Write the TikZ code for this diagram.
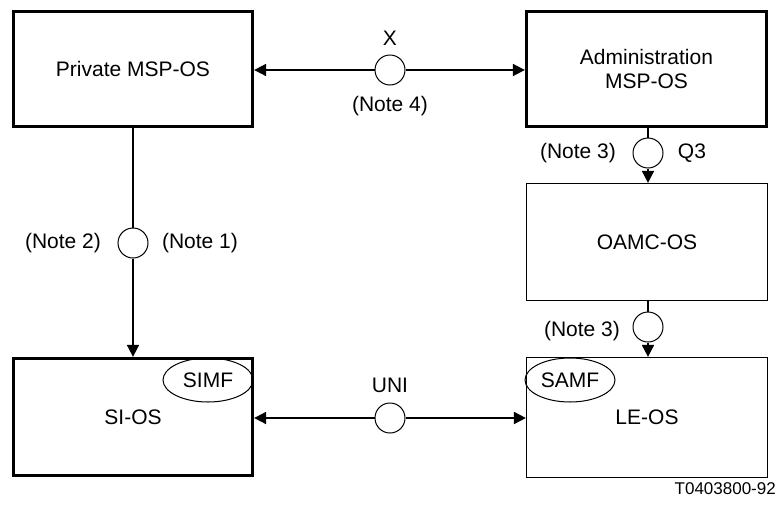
\documentclass[tikz,border=0pt]{standalone}
\usepackage{fontspec}
\setmainfont{Liberation Sans}
\usetikzlibrary{arrows.meta,shapes.geometric}
\tikzset{
  thickbox/.style={draw, line width=3.3pt, minimum width=239pt, minimum height=115pt, inner sep=0pt, font=\fontsize{21}{24}\selectfont, align=center},
  thinbox/.style={draw, line width=1.2pt, minimum width=241pt, minimum height=117pt, inner sep=0pt, font=\fontsize{21}{24}\selectfont, align=center},
  iface/.style={circle, draw, fill=white, line width=1pt, minimum size=30pt, inner sep=0pt},
  conn/.style={line width=1.8pt},
  arr/.style={conn, -{Triangle[length=12pt,width=12pt]}},
  lbl/.style={font=\fontsize{21}{24}\selectfont, inner sep=0pt},
  fnc/.style={ellipse, draw, line width=1pt, minimum width=90pt, minimum height=44pt, inner sep=0pt, font=\fontsize{21}{24}\selectfont}
}
\begin{document}
\begin{tikzpicture}[x=1pt,y=-1pt]
\useasboundingbox (0,0) rectangle (780,504);
% boxes
\node[thickbox] (pm) at (133,69) {Private MSP-OS};
\node[thickbox, minimum width=240pt] (am) at (646.5,69) {Administration\\MSP-OS};
\node[thinbox] (oamc) at (647,242) {OAMC-OS};
\node[thickbox, minimum height=117pt] (si) at (133,417) {SI-OS};
\node[thinbox, minimum height=120pt] (le) at (647,417.5) {LE-OS};
% functions
\node[fnc] (simf) at (208,380) {SIMF};
\node[fnc] (samf) at (570,380) {SAMF};
% interfaces
\node[iface] (cx) at (390,70) {};
\node[iface] (cq) at (648,153) {};
\node[iface] (cn) at (133,243) {};
\node[iface] (co) at (648,327) {};
\node[iface] (cu) at (390,418) {};
% connectors
\draw[arr] (cx) -- (cx -| pm.east);
\draw[arr] (cx) -- (cx -| am.west);
\draw[conn] (cq |- am.south) -- (cq);
\draw[arr] (cq) -- (cq |- oamc.north);
\draw[conn] (cn |- pm.south) -- (cn);
\draw[arr] (cn) -- (cn |- si.north);
\draw[conn] (co |- oamc.south) -- (co);
\draw[arr] (co) -- (co |- le.north);
\draw[arr] (cu) -- (cu -| si.east);
\draw[arr] (cu) -- (cu -| le.west);
% labels
\node[lbl] (lx) at (390,38) {X};
\node[lbl] (ln4) at (390,106) {(Note 4)};
\node[lbl] (ln3a) at (578,153) {(Note 3)};
\node[lbl] (lq3) at (692,153) {Q3};
\node[lbl] (ln2) at (63,243) {(Note 2)};
\node[lbl] (ln1) at (200,243) {(Note 1)};
\node[lbl] (ln3b) at (582,331) {(Note 3)};
\node[lbl] (luni) at (390,385) {UNI};
\node[lbl, anchor=east, font=\fontsize{17}{20}\selectfont] (tag) at (776,489) {T0403800-92};
\end{tikzpicture}
\end{document}
